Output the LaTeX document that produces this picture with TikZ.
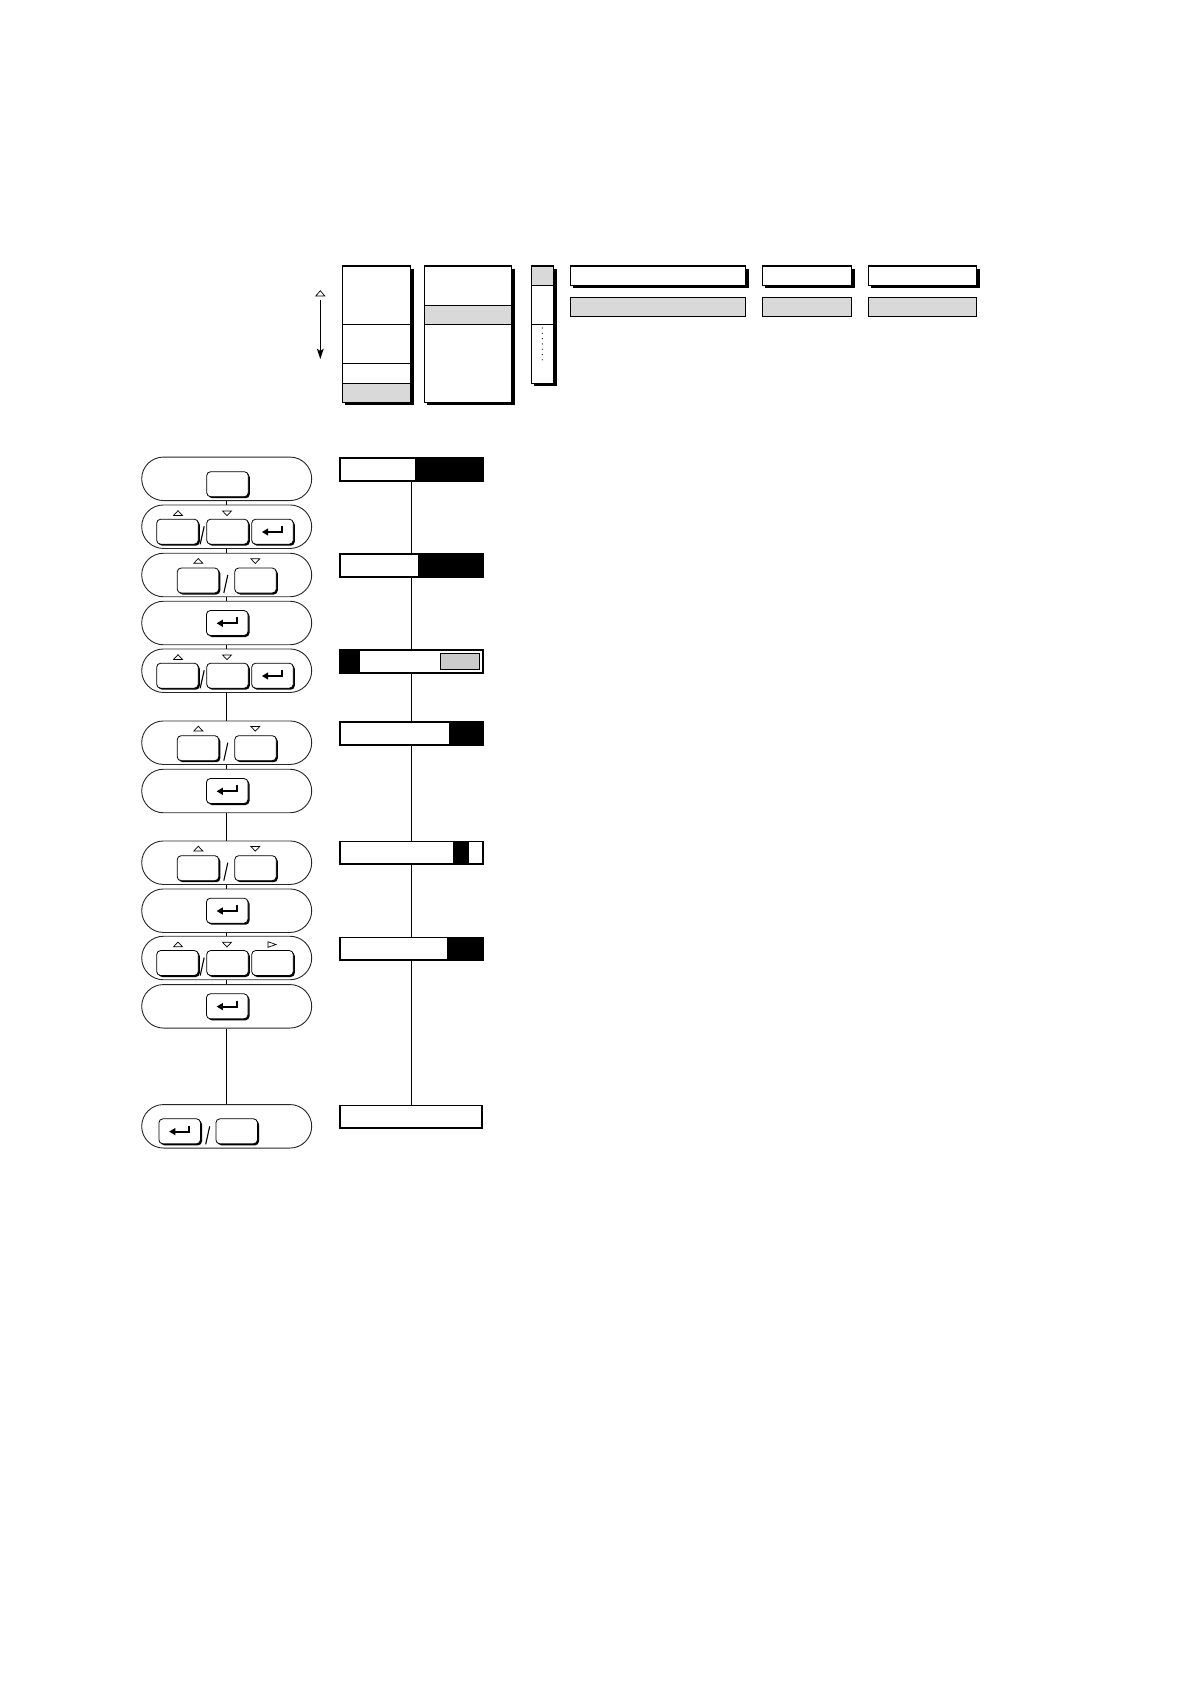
\documentclass[tikz,border=0pt]{standalone}
\usetikzlibrary{shapes.misc}
\definecolor{lg}{gray}{0.85}
\definecolor{mg}{gray}{0.80}
\begin{document}
\begin{tikzpicture}[x=1pt,y=-1pt,
  pill/.style={rounded rectangle, draw=black!85, line width=0.9, fill=white, minimum width=170, minimum height=43.5, inner sep=0},
  bar/.style={draw, line width=1.2, minimum width=142.4, minimum height=22, inner sep=0},
  conn/.style={line width=1},
  vline/.style={line width=1.3},
  outl/.style={line width=1.2},
  pkey/.pic={
    \fill[black, rounded corners=4] (-19.3,-11) rectangle (22.3,14);
    \draw[fill=white, line width=0.8, rounded corners=4] (-20.8,-12.5) rectangle (20.8,12.5);
  },
  penter/.pic={
    \fill[black, rounded corners=4] (-19.3,-11) rectangle (22.3,14);
    \draw[fill=white, line width=0.8, rounded corners=4] (-20.8,-12.5) rectangle (20.8,12.5);
    \draw[line width=1.8] (9.5,-5.7) -- (9.5,0.3) -- (-5,0.3);
    \fill (-10.5,0.3) -- (-4.3,-3.4) -- (-4.3,4) -- cycle;
  },
  uptri/.pic={\draw[line width=0.7, line join=miter] (-4.5,2.3) -- (4.5,2.3) -- (0,-2.5) -- cycle;},
  dntri/.pic={\draw[line width=0.7, line join=miter] (-4.5,-2.3) -- (4.5,-2.3) -- (0,2.5) -- cycle;},
  rttri/.pic={\draw[line width=0.7, line join=miter] (-4,-2.8) -- (-4,2.8) -- (4,0) -- cycle;},
  slash/.pic={\draw[line width=1.1] (2,-0.5) -- (-2,17.5);}
]
\useasboundingbox (0,0) rectangle (1190,1684);

% ---------- top legend area ----------
% scroll arrow
\draw[line width=0.7, line join=miter] (315.8,296) -- (324.8,296) -- (320.3,290.7) -- cycle;
\draw[line width=1] (320.3,300) -- (320.3,352);
\fill (320.3,359) -- (316.8,348.5) -- (320.3,351) -- (323.8,348.5) -- cycle;

% box 1
\fill (345.3,269) rectangle (413.7,405.3);
\fill[white] (342.3,266) rectangle (410.7,402.3);
\fill[lg] (342.3,383.3) rectangle (410.7,402.3);
\draw[outl] (342.3,324.3) -- (410.7,324.3);
\draw[outl] (342.3,363.3) -- (410.7,363.3);
\draw[outl] (342.3,383.3) -- (410.7,383.3);
\draw[outl] (342.3,266) rectangle (410.7,402.3);

% box 2
\fill (427.3,269) rectangle (514.7,405.3);
\fill[white] (424.3,266) rectangle (511.7,402.3);
\fill[lg] (424.3,305.3) rectangle (511.7,324.3);
\draw[outl] (424.3,305.3) -- (511.7,305.3);
\draw[outl] (424.3,324.3) -- (511.7,324.3);
\draw[outl] (424.3,266) rectangle (511.7,402.3);

% box 3
\fill (534.3,269) rectangle (556.7,386.3);
\fill[white] (531.3,266) rectangle (553.7,383.3);
\fill[lg] (531.3,266) rectangle (553.7,285.3);
\draw[outl] (531.3,285.3) -- (553.7,285.3);
\draw[outl] (531.3,324.3) -- (553.7,324.3);
\foreach \d in {328,333.3,338.6,343.9,349.2,354.5,359.8} \fill (542.3,\d) circle (0.6);
\draw[outl] (531.3,266) rectangle (553.7,383.3);

% bars with shadow
\foreach \xa/\xb in {570.3/745.7, 762.3/851.7, 868.3/976.7} {
  \fill (\xa+3,269) rectangle (\xb+3,288.3);
  \draw[outl, fill=white] (\xa,266) rectangle (\xb,285.3);
  \draw[outl, fill=lg] (\xa,297.3) rectangle (\xb,316.3);
}

% ---------- left column: key pills ----------
\foreach \n/\y in {1/478.8, 2/526.7, 3/575, 4/623, 5/670.7, 6/742.7, 7/791, 8/862.7, 9/910.7, 10/958, 11/1006.3, 12/1126.3}
  \node[pill] (p\n) at (226.7,\y) {};
\foreach \a/\b in {1/2, 2/3, 3/4, 4/5, 5/6, 6/7, 7/8, 8/9, 9/10, 10/11, 11/12}
  \draw[conn] (p\a.south) -- (p\b.north);

% pill 1
\pic at (227.5,484.2) {pkey};
% three-key pills (up / down / enter)
\foreach \cy in {526.7, 670.7} {
  \pic at (177.5,\cy+5) {pkey};
  \pic at (227.5,\cy+5) {pkey};
  \pic at (272.5,\cy+5) {penter};
  \pic at (178,\cy-13.5) {uptri};
  \pic at (227,\cy-13.5) {dntri};
  \pic at (202.2,\cy) {slash};
}
% three-key pill with right key
\pic at (177.5,963) {pkey};
\pic at (227.5,963) {pkey};
\pic at (272.5,963) {pkey};
\pic at (178,944.5) {uptri};
\pic at (227,944.5) {dntri};
\pic at (272,944.5) {rttri};
\pic at (202.2,958) {slash};
% two-key pills (up / down)
\foreach \cy in {575, 742.7, 862.7} {
  \pic at (198,\cy+5.5) {pkey};
  \pic at (255.5,\cy+5.5) {pkey};
  \pic at (198.3,\cy-14) {uptri};
  \pic at (255.3,\cy-14) {dntri};
  \pic at (225.8,\cy+0.5) {slash};
}
% enter pills
\foreach \cy in {623, 791, 910.7, 1006.3}
  \pic at (227.2,\cy) {penter};
% last pill
\pic at (179.7,1131.3) {penter};
\pic at (236.7,1131.3) {pkey};
\pic at (207.7,1126.8) {slash};

% ---------- right column: display bars ----------
\foreach \n/\y in {1/469.3, 2/565.3, 3/661.3, 4/733.3, 5/852.8, 6/948.8}
  \node[bar] (b\n) at (411.5,\y) {};
\node[bar, minimum width=141.4] (b7) at (411,1116.8) {};
\foreach \a/\b in {1/2, 2/3, 3/4, 4/5, 5/6, 6/7}
  \draw[vline] (b\a.south) -- (b\a.south |- b\b.north);

\fill (415,458.3) rectangle (482.7,480.3);
\fill (418,554.3) rectangle (482.7,576.3);
\fill (340.3,650.3) rectangle (360,672.3);
\draw[line width=1, fill=mg] (440.3,653) rectangle (479.3,669.3);
\fill (449,722.3) rectangle (482.7,744.3);
\fill (453.3,841.8) rectangle (468.7,863.8);
\fill (447.3,937.8) rectangle (482.7,959.8);
\foreach \n in {1,...,7}
  \draw[line width=1.2] (b\n.south west) rectangle (b\n.north east);
\end{tikzpicture}
\end{document}
